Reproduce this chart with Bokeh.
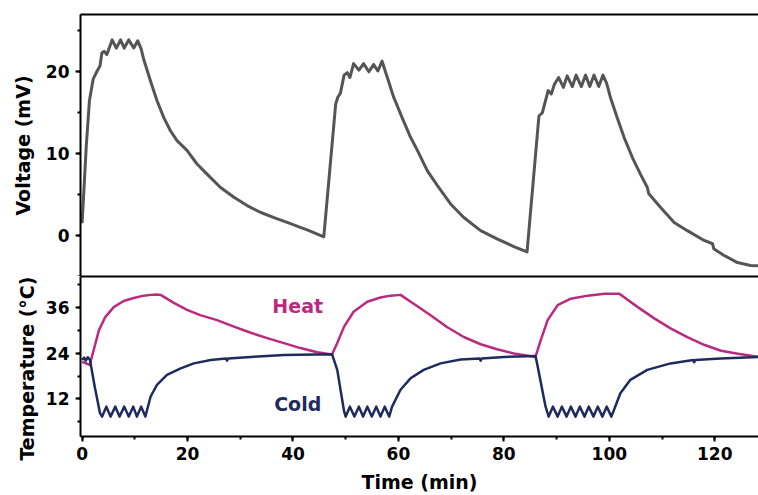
from bokeh.plotting import figure
from bokeh.models import Range1d, LinearAxis, SingleIntervalTicker, FixedTicker, Label, Title
from bokeh.layouts import column
from bokeh.embed import file_html
from bokeh.resources import INLINE

# ---------------- data ----------------
time_v = [0, 0.3, 0.8, 1.4, 2.1, 2.85, 3.4, 3.75, 4.2, 4.7, 5.7, 6.5, 7.3, 8.0, 8.85, 9.8, 10.55, 11.2, 11.7,
          12.96, 14.2, 15.5, 16.76, 18.0, 19.9, 21.8, 23.7, 26.2, 28.8, 31.3, 33.8, 36.4, 38.9, 41.4, 42.7, 45.85,
          48.1, 48.5, 49.0, 49.7, 50.3, 50.8, 51.5, 52.5, 53.4, 54.4, 55.3, 56.1, 56.9,
          57.9, 59.1, 60.7, 62.3, 63.6, 65.5, 67.4, 69.9, 72.4, 75.6, 78.7, 81.9, 84.4,
          86.65, 87.3, 88.4, 89.0, 89.6, 90.4, 91.3, 92.0, 93.0, 93.7, 94.7, 95.5, 96.3, 97.1, 98.0, 98.8, 99.5,
          100.2, 101.5, 102.8, 104.4, 105.9, 107.2, 107.5, 109.7, 112.3, 114.8, 118.0, 119.6, 119.8, 121.7,
          124.3, 126.8, 128.3]
voltage = [1.5, 5.0, 11.0, 16.5, 19.1, 20.1, 20.7, 22.3, 22.5, 22.1, 23.9, 22.9, 23.9, 22.9, 23.9, 22.9, 23.8, 22.8, 21.5,
           18.9, 16.5, 14.4, 12.8, 11.6, 10.4, 8.74, 7.5, 5.9, 4.67, 3.66, 2.85, 2.2, 1.6, 1.0, 0.69, -0.15,
           16.05, 16.9, 17.4, 19.6, 19.9, 19.3, 21.0, 20.2, 21.0, 20.0, 20.9, 20.1, 21.3,
           19.3, 16.9, 14.4, 12.0, 10.4, 7.9, 6.1, 3.86, 2.2, 0.6, -0.4, -1.34, -2.0,
           14.6, 15.0, 17.7, 17.3, 18.5, 19.3, 18.1, 19.5, 18.2, 19.6, 18.2, 19.6, 18.2, 19.6, 18.2, 19.6, 18.6,
           16.9, 14.4, 12.0, 9.5, 7.5, 5.9, 5.1, 3.45, 1.6, 0.6, -0.6, -1.0, -1.6, -2.4,
           -3.3, -3.66, -3.7]

time_heat = [0, 0.95, 1.45, 2.2, 3.2, 4.4, 6.0, 7.9, 9.8, 11.7, 13.0, 14.2, 14.9, 17.4, 19.9, 22.4, 25.6, 28.8,
             32.0, 35.1, 38.3, 41.4, 44.6, 47.4, 48.4, 49.7, 51.5, 54.1, 56.6, 58.5, 60.4, 62.9, 66.1, 69.2,
             72.4, 75.6, 78.7, 81.9, 86.0, 87.0, 88.3, 90.2, 92.7, 95.9, 99.1, 101.9, 105.4, 108.6, 111.7,
             114.9, 118.1, 121.2, 124.4, 128.3]
temp_heat = [21.7, 21.2, 20.9, 24.8, 30.0, 33.4, 36.0, 37.6, 38.4, 39.0, 39.2, 39.3, 39.2, 37.1, 35.3, 33.9, 32.6, 30.9,
             29.3, 27.9, 26.6, 25.3, 24.2, 23.6, 26.6, 30.9, 34.8, 37.4, 38.5, 39.0, 39.2, 36.9, 33.9, 30.8,
             28.2, 26.3, 25.0, 23.9, 23.0, 27.4, 32.6, 36.5, 38.2, 39.0, 39.5, 39.5, 36.0, 33.0, 30.4,
             28.1, 26.1, 24.6, 23.8, 23.0]

time_cold = [0, 0.4, 0.7, 1.1, 1.5, 2.4, 3.4, 3.8, 4.6, 5.4, 6.3, 7.1, 8.0, 8.85, 9.7, 10.4, 11.2, 12.0,
             13.0, 14.2, 16.1, 18.7, 21.2, 24.4, 27.3, 27.5, 27.7, 32.0, 38.3, 47.4,
             48.4, 49.7, 50.0, 50.8, 51.65, 52.5, 53.3, 54.1, 54.95, 55.8, 56.6, 57.4, 58.25,
             58.8, 60.4, 62.3, 64.8, 68.0, 71.8, 75.4, 75.6, 75.8, 80.0, 86.0,
             86.3, 87.9, 88.5, 89.3, 90.2, 91.0, 91.9, 92.7, 93.6, 94.4, 95.3, 96.1, 97.0, 97.8, 98.7, 99.5, 100.4,
             102.1, 104.0, 107.2, 111.6, 115.9, 116.1, 116.3, 121.1, 128.3]
temp_cold = [22.2, 22.8, 22.0, 22.9, 22.2, 15.2, 8.3, 7.4, 10.0, 7.4, 10.0, 7.4, 10.0, 7.4, 10.0, 7.4, 10.0, 7.4,
             12.65, 15.7, 18.3, 20.0, 21.3, 22.2, 22.6, 22.0, 22.6, 23.0, 23.5, 23.7,
             19.6, 8.75, 7.4, 10.0, 7.4, 10.0, 7.4, 10.0, 7.4, 10.0, 7.4, 10.0, 7.4,
             10.0, 14.4, 17.4, 19.6, 21.3, 22.3, 22.6, 22.0, 22.6, 23.0, 23.2,
             21.3, 10.05, 7.4, 10.0, 7.4, 10.0, 7.4, 10.0, 7.4, 10.0, 7.4, 10.0, 7.4, 10.0, 7.4, 10.0, 7.4,
             13.5, 17.0, 19.6, 21.3, 22.2, 21.6, 22.2, 22.6, 23.0]

x_ticks_interval = 20
v_ticks_interval = 10
t_ticks_interval = 12

FONT = "DejaVu Sans"
GRAY = "#555555"
HEAT = "#BB2A7E"
COLD = "#1F2B5E"

W = 758
TOP_H = 276
BOT_H = 219

xr = Range1d(-0.3, 128.3)


def style_axis(ax, label_size="17px"):
    ax.axis_line_width = 2
    ax.axis_line_color = "black"
    ax.major_tick_line_width = 2
    ax.minor_tick_line_width = 2
    ax.major_tick_in = 0
    ax.major_tick_out = 5
    ax.minor_tick_in = 0
    ax.minor_tick_out = 3
    ax.major_label_text_font = FONT
    ax.major_label_text_font_style = "bold"
    ax.major_label_text_font_size = label_size
    ax.major_label_text_color = "black"
    ax.axis_label_text_font = FONT
    ax.axis_label_text_font_style = "bold"
    ax.axis_label_text_font_size = "19px"
    ax.axis_label_text_color = "black"


def line_only(ax):
    ax.ticker = FixedTicker(ticks=[], minor_ticks=[])
    ax.axis_line_width = 2
    ax.axis_line_color = "black"
    ax.major_tick_in = 0
    ax.major_tick_out = 0
    ax.minor_tick_in = 0
    ax.minor_tick_out = 0
    ax.major_label_standoff = 0
    ax.major_label_text_font_size = "0px"


# ---------------- top: voltage ----------------
p1 = figure(width=W, height=TOP_H, x_range=xr, y_range=Range1d(-5, 27),
            output_backend="svg", toolbar_location=None,
            min_border_left=80, min_border_right=0, min_border_top=14, min_border_bottom=0)
p1.outline_line_color = None
p1.grid.visible = False
p1.line(time_v, voltage, line_color=GRAY, line_width=3, line_join="round")

p1.yaxis.ticker = SingleIntervalTicker(interval=v_ticks_interval, num_minor_ticks=2)
style_axis(p1.yaxis[0])
p1.yaxis.axis_label = "Voltage (mV)"
p1.yaxis.major_label_standoff = 6
p1.yaxis.axis_label_standoff = 9
line_only(p1.xaxis[0])
top_ax = LinearAxis()
line_only(top_ax)
p1.add_layout(top_ax, "above")

# ---------------- bottom: temperature ----------------
p2 = figure(width=W, height=BOT_H, x_range=xr, y_range=Range1d(2.2, 44),
            output_backend="svg", toolbar_location=None,
            min_border_left=80, min_border_right=0, min_border_top=0, min_border_bottom=0)
p2.outline_line_color = None
p2.grid.visible = False
p2.line(time_heat, temp_heat, line_color=HEAT, line_width=2.5, line_join="round")
p2.line(time_cold, temp_cold, line_color=COLD, line_width=2.5, line_join="round")

p2.yaxis.ticker = SingleIntervalTicker(interval=t_ticks_interval, num_minor_ticks=2)
style_axis(p2.yaxis[0])
p2.yaxis.major_label_standoff = 6

p2.xaxis.ticker = SingleIntervalTicker(interval=x_ticks_interval, num_minor_ticks=2)
style_axis(p2.xaxis[0])
p2.xaxis.axis_label = "Time (min)"
p2.xaxis.major_label_standoff = 5
p2.xaxis.axis_label_standoff = 8
sep_ax = LinearAxis()
line_only(sep_ax)
p2.add_layout(sep_ax, "above")

# y title of the temperature panel is longer than the panel: a side title aligned to the frame top
p2.add_layout(Title(text="Temperature (°C)", align="right", standoff=9,
                    text_font=FONT, text_font_style="bold", text_font_size="19px",
                    text_color="black"), "left")

lab_font = dict(text_font=FONT, text_font_style="bold", text_font_size="19px",
                text_align="center", text_baseline="middle")
p2.add_layout(Label(x=40.9, y=36.4, text="Heat", text_color=HEAT, **lab_font))
p2.add_layout(Label(x=40.9, y=10.7, text="Cold", text_color=COLD, **lab_font))

layout = column(p1, p2, spacing=0)
open("out.html", "w").write(file_html(layout, INLINE))
